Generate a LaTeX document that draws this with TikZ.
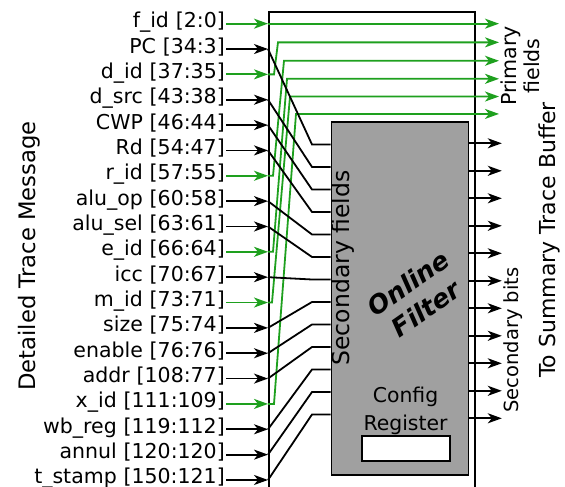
\documentclass[tikz,border=0pt]{standalone}
\usepackage{fontspec}
\setmainfont{DejaVu Sans}
\usetikzlibrary{positioning,arrows.meta}
\definecolor{primgreen}{RGB}{30,160,30}
\definecolor{filtergray}{RGB}{160,160,160}

\begin{document}
\begin{tikzpicture}[x=1pt,y=-1pt,node distance=0pt,
  lbl/.style={text width=195pt,align=right,inner sep=0pt,text height=14pt,text depth=6pt,
    minimum height=24.95pt,font=\fontsize{20.5}{24}\selectfont},
  wire/.style={line width=1.8pt},
  arr/.style={wire,-{Stealth[length=14pt,width=10pt,inset=4pt]}},
  prim/.style={color=primgreen},
  vtext/.style={rotate=90,inner sep=0pt}]
  \useasboundingbox (0,0) rectangle (565,487);
  \clip (0,0) rectangle (565,487);
  % fields of the trace message
  \node[lbl,anchor=north east] (fid) at (225,11) {f\_id [2:0]};
  \node[lbl,below=of fid] (pc) {PC [34:3]};
  \node[lbl,below=of pc] (did) {d\_id [37:35]};
  \node[lbl,below=of did] (dsrc) {d\_src [43:38]};
  \node[lbl,below=of dsrc] (cwp) {CWP [46:44]};
  \node[lbl,below=of cwp] (rd) {Rd [54:47]};
  \node[lbl,below=of rd] (rid) {r\_id [57:55]};
  \node[lbl,below=of rid] (aluop) {alu\_op [60:58]};
  \node[lbl,below=of aluop] (alusel) {alu\_sel [63:61]};
  \node[lbl,below=of alusel] (eid) {e\_id [66:64]};
  \node[lbl,below=of eid] (icc) {icc [70:67]};
  \node[lbl,below=of icc] (mid) {m\_id [73:71]};
  \node[lbl,below=of mid] (size) {size [75:74]};
  \node[lbl,below=of size] (enable) {enable [76:76]};
  \node[lbl,below=of enable] (addr) {addr [108:77]};
  \node[lbl,below=of addr] (xid) {x\_id [111:109]};
  \node[lbl,below=of xid] (wbreg) {wb\_reg [119:112]};
  \node[lbl,below=of wbreg] (annul) {annul [120:120]};
  \node[lbl,below=of annul] (tstamp) {t\_stamp [150:121]};
  \node[vtext,font=\fontsize{22.7}{27}\selectfont] (title) at (29.5,256) {Detailed Trace Message};
  % frame and filter
  \node[draw,line width=2pt,inner sep=0pt,minimum width=206pt,minimum height=500pt,anchor=north] (frame) at (372,11) {};
  \node[draw,fill=filtergray,line width=1.8pt,inner sep=0pt,minimum width=137pt,minimum height=353pt,anchor=north west] (filter) at (330.5,121) {};
  \node[vtext,font=\fontsize{23.5}{28}\selectfont] (secf) at (343,268) {Secondary fields};
  \node[rotate=35,align=center,font=\fontsize{25.5}{31}\selectfont\bfseries\itshape] (olf) at (417,296) {Online\\Filter};
  \node[align=center,font=\fontsize{20.4}{28}\selectfont] (cfgtxt) at (405.5,410.5) {Config\\Register};
  \node[draw,fill=white,line width=1.8pt,inner sep=0pt,minimum width=88pt,minimum height=25pt] (cfgreg) at (406,448.5) {};
  \node[vtext,align=center,font=\fontsize{20.6}{23}\selectfont] (primf) at (520,66) {Primary\\fields};
  \node[vtext,font=\fontsize{19.5}{23}\selectfont] (secb) at (513,340) {Secondary bits};
  \node[vtext,font=\fontsize{22}{26}\selectfont] (tosum) at (549,240) {To Summary Trace Buffer};
  % inputs
  \draw[arr,prim,shorten <=1pt] (fid.east) -- (fid.east -| frame.west);
  \draw[arr,shorten <=1pt] (pc.east) -- (pc.east -| frame.west);
  \draw[arr,prim,shorten <=1pt] (did.east) -- (did.east -| frame.west);
  \draw[arr,shorten <=1pt] (dsrc.east) -- (dsrc.east -| frame.west);
  \draw[arr,shorten <=1pt] (cwp.east) -- (cwp.east -| frame.west);
  \draw[arr,shorten <=1pt] (rd.east) -- (rd.east -| frame.west);
  \draw[arr,prim,shorten <=1pt] (rid.east) -- (rid.east -| frame.west);
  \draw[arr,shorten <=1pt] (aluop.east) -- (aluop.east -| frame.west);
  \draw[arr,shorten <=1pt] (alusel.east) -- (alusel.east -| frame.west);
  \draw[arr,prim,shorten <=1pt] (eid.east) -- (eid.east -| frame.west);
  \draw[arr,shorten <=1pt] (icc.east) -- (icc.east -| frame.west);
  \draw[arr,prim,shorten <=1pt] (mid.east) -- (mid.east -| frame.west);
  \draw[arr,shorten <=1pt] (size.east) -- (size.east -| frame.west);
  \draw[arr,shorten <=1pt] (enable.east) -- (enable.east -| frame.west);
  \draw[arr,shorten <=1pt] (addr.east) -- (addr.east -| frame.west);
  \draw[arr,prim,shorten <=1pt] (xid.east) -- (xid.east -| frame.west);
  \draw[arr,shorten <=1pt] (wbreg.east) -- (wbreg.east -| frame.west);
  \draw[arr,shorten <=1pt] (annul.east) -- (annul.east -| frame.west);
  \draw[arr,shorten <=1pt] (tstamp.east) -- (tstamp.east -| frame.west);
  % primary fields
  \draw[arr,prim] (fid.east -| frame.west) -- ++(231,0);
  \draw[arr,prim] (did.east -| frame.west) -- ++(6,0) -- ++(4,-32) -- ++(221,0);
  \draw[arr,prim] (rid.east -| frame.west) -- ++(5,0) -- ++(11,-115) -- ++(215,0);
  \draw[arr,prim] (eid.east -| frame.west) -- ++(5,0) -- ++(14,-173) -- ++(212,0);
  \draw[arr,prim] (mid.east -| frame.west) -- ++(4,0) -- ++(18,-206) -- ++(209,0);
  \draw[arr,prim] (xid.east -| frame.west) -- ++(6,0) -- ++(22,-290) -- ++(203,0);
  % secondary fields
  \draw[wire] (pc.east -| frame.west) -- ([xshift=-18.5pt,yshift=-23.5pt]filter.north west) -- ([yshift=-23.5pt]filter.north west);
  \draw[wire] (dsrc.east -| frame.west) -- ([xshift=-18.5pt,yshift=-46pt]filter.north west) -- ([yshift=-46pt]filter.north west);
  \draw[wire] (cwp.east -| frame.west) -- ([xshift=-18.5pt,yshift=-68.5pt]filter.north west) -- ([yshift=-68.5pt]filter.north west);
  \draw[wire] (rd.east -| frame.west) -- ([xshift=-18.5pt,yshift=-91pt]filter.north west) -- ([yshift=-91pt]filter.north west);
  \draw[wire] (aluop.east -| frame.west) -- ([xshift=-18.5pt,yshift=-113.5pt]filter.north west) -- ([yshift=-113.5pt]filter.north west);
  \draw[wire] (alusel.east -| frame.west) -- ([xshift=-18.5pt,yshift=-136pt]filter.north west) -- ([yshift=-136pt]filter.north west);
  \draw[wire] (icc.east -| frame.west) -- ([xshift=-18.5pt,yshift=-158.5pt]filter.north west) -- ([yshift=-158.5pt]filter.north west);
  \draw[wire] (size.east -| frame.west) -- ([xshift=-18.5pt,yshift=-181pt]filter.north west) -- ([yshift=-181pt]filter.north west);
  \draw[wire] (enable.east -| frame.west) -- ([xshift=-18.5pt,yshift=-203.5pt]filter.north west) -- ([yshift=-203.5pt]filter.north west);
  \draw[wire] (addr.east -| frame.west) -- ([xshift=-18.5pt,yshift=-226pt]filter.north west) -- ([yshift=-226pt]filter.north west);
  \draw[wire] (wbreg.east -| frame.west) -- ([xshift=-18.5pt,yshift=-248.5pt]filter.north west) -- ([yshift=-248.5pt]filter.north west);
  \draw[wire] (annul.east -| frame.west) -- ([xshift=-18.5pt,yshift=-271pt]filter.north west) -- ([yshift=-271pt]filter.north west);
  \draw[wire] (tstamp.east -| frame.west) -- ([xshift=-18.5pt,yshift=-293.5pt]filter.north west) -- ([yshift=-293.5pt]filter.north west);
  % secondary bits out
  \draw[arr] ([yshift=-22.3pt]filter.north east) -- ++(32.5,0);
  \draw[arr] ([yshift=-49.8pt]filter.north east) -- ++(32.5,0);
  \draw[arr] ([yshift=-77.3pt]filter.north east) -- ++(32.5,0);
  \draw[arr] ([yshift=-104.8pt]filter.north east) -- ++(32.5,0);
  \draw[arr] ([yshift=-132.3pt]filter.north east) -- ++(32.5,0);
  \draw[arr] ([yshift=-159.8pt]filter.north east) -- ++(32.5,0);
  \draw[arr] ([yshift=-187.3pt]filter.north east) -- ++(32.5,0);
  \draw[arr] ([yshift=-214.8pt]filter.north east) -- ++(32.5,0);
  \draw[arr] ([yshift=-242.3pt]filter.north east) -- ++(32.5,0);
  \draw[arr] ([yshift=-269.8pt]filter.north east) -- ++(32.5,0);
  \draw[arr] ([yshift=-297.3pt]filter.north east) -- ++(32.5,0);
\end{tikzpicture}
\end{document}
